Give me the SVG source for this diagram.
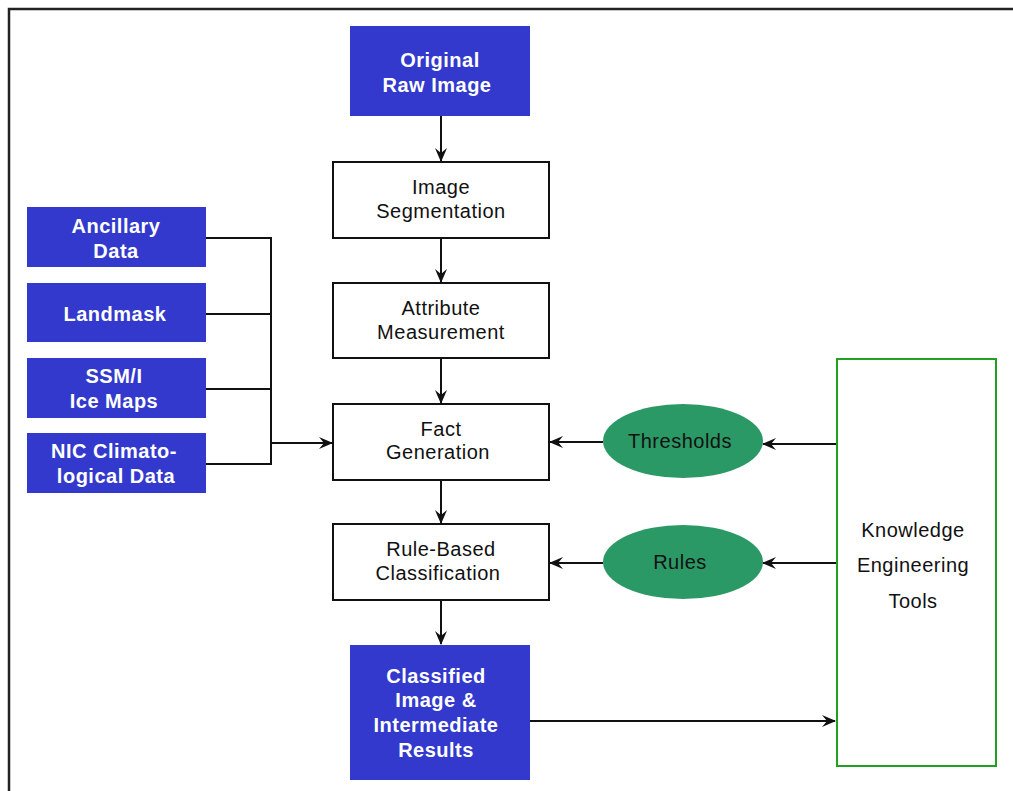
<svg xmlns="http://www.w3.org/2000/svg" width="1013" height="791" viewBox="0 0 1013 791">
<style>
.blue{fill:#3239cc;}
.box{fill:#fff;stroke:#111;stroke-width:2;}
.ell{fill:#2b9966;}
.kb{fill:#fff;stroke:#22a022;stroke-width:2;}
text{font-family:"Liberation Sans",Arial,sans-serif;font-size:20px;text-anchor:middle;dominant-baseline:central;letter-spacing:0.5px;}
.w{fill:#fff;font-weight:bold;}
.k{fill:#111;}
.c{fill:none;stroke:#111;stroke-width:2;}
</style>
<defs>
<marker id="ah" viewBox="0 0 14 14" refX="13" refY="7" markerWidth="14" markerHeight="14" markerUnits="userSpaceOnUse" orient="auto">
<path d="M0,1 L14,7 L0,13 L5,7 Z" fill="#111"/>
</marker>
</defs>
<rect x="0" y="0" width="1013" height="791" fill="#fff"/>
<path d="M9,791 V9 H1013" fill="none" stroke="#222" stroke-width="2.5"/>
<g id="connectors">
<line class="c" x1="441" y1="116" x2="441" y2="161" marker-end="url(#ah)"/>
<line class="c" x1="441" y1="238" x2="441" y2="282" marker-end="url(#ah)"/>
<line class="c" x1="441" y1="358" x2="441" y2="403" marker-end="url(#ah)"/>
<line class="c" x1="441" y1="480" x2="441" y2="523" marker-end="url(#ah)"/>
<line class="c" x1="441" y1="600" x2="441" y2="644" marker-end="url(#ah)"/>
<path class="c" d="M206,238 H271 V464 H206 M206,314 H271 M206,389 H271"/>
<line class="c" x1="271" y1="443" x2="332" y2="443" marker-end="url(#ah)"/>
<line class="c" x1="836" y1="444" x2="763" y2="444" marker-end="url(#ah)"/>
<line class="c" x1="603" y1="442" x2="550" y2="442" marker-end="url(#ah)"/>
<line class="c" x1="836" y1="563" x2="763" y2="563" marker-end="url(#ah)"/>
<line class="c" x1="603" y1="563" x2="550" y2="563" marker-end="url(#ah)"/>
<line class="c" x1="483" y1="721" x2="835" y2="721" marker-end="url(#ah)"/>
</g>
<g id="original"><rect class="blue" x="350" y="26" width="180" height="90"/><text class="w" x="440" y="60">Original</text><text class="w" x="437" y="85">Raw Image</text></g>
<g id="segmentation"><rect class="box" x="333" y="162" width="216" height="76"/><text class="k" x="441" y="187">Image</text><text class="k" x="441" y="211">Segmentation</text></g>
<g id="attribute"><rect class="box" x="333" y="283" width="216" height="75"/><text class="k" x="441" y="308">Attribute</text><text class="k" x="441" y="332">Measurement</text></g>
<g id="fact"><rect class="box" x="333" y="404" width="216" height="76"/><text class="k" x="441" y="429">Fact</text><text class="k" x="438" y="452">Generation</text></g>
<g id="rulebased"><rect class="box" x="333" y="524" width="216" height="76"/><text class="k" x="441" y="549">Rule-Based</text><text class="k" x="438" y="573">Classification</text></g>
<g id="classified"><rect class="blue" x="350" y="645" width="180" height="135"/><text class="w" x="436" y="676">Classified</text><text class="w" x="436" y="700">Image &amp;</text><text class="w" x="436" y="725">Intermediate</text><text class="w" x="436" y="750">Results</text></g>
<g id="ancillary"><rect class="blue" x="27" y="207" width="179" height="60"/><text class="w" x="116" y="226">Ancillary</text><text class="w" x="116" y="251">Data</text></g>
<g id="landmask"><rect class="blue" x="27" y="283" width="179" height="59"/><text class="w" x="115" y="314">Landmask</text></g>
<g id="ssmi"><rect class="blue" x="27" y="358" width="179" height="60"/><text class="w" x="114" y="376">SSM/I</text><text class="w" x="114" y="401">Ice Maps</text></g>
<g id="nic"><rect class="blue" x="27" y="433" width="179" height="60"/><text class="w" x="114" y="451">NIC Climato-</text><text class="w" x="116" y="476">logical Data</text></g>
<g id="thresholds"><ellipse class="ell" cx="683" cy="441" rx="80" ry="37"/><text class="k" x="680" y="441">Thresholds</text></g>
<g id="rules"><ellipse class="ell" cx="683" cy="562" rx="80" ry="37"/><text class="k" x="680" y="562">Rules</text></g>
<g id="knowledge"><rect class="kb" x="837" y="359" width="159" height="407"/><text class="k" x="913" y="530">Knowledge</text><text class="k" x="913" y="565">Engineering</text><text class="k" x="913" y="601">Tools</text></g>
</svg>
